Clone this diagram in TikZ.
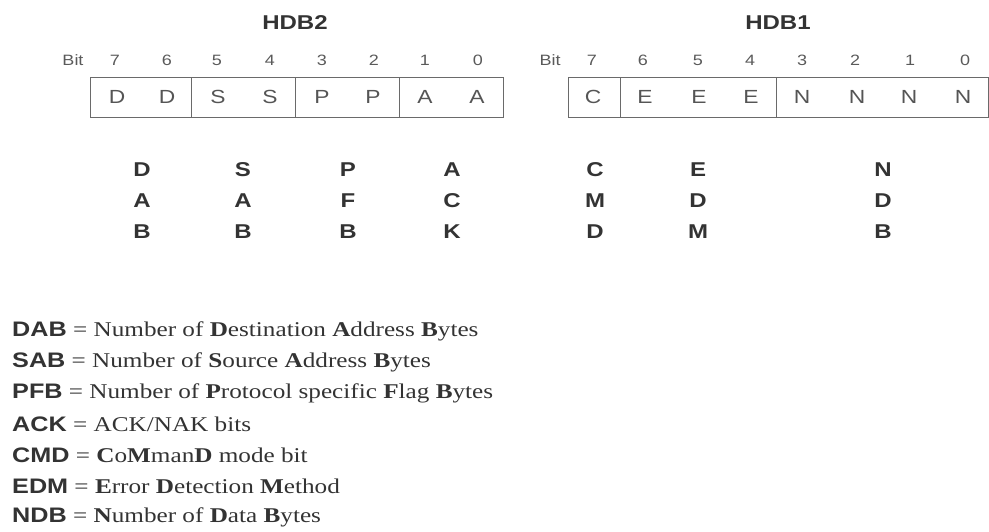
\documentclass[tikz,border=0pt]{standalone}
\usepackage{fontspec}
\setmainfont{Liberation Serif}[FakeStretch=1.2]
\setsansfont{Liberation Sans}[FakeStretch=1.2]
\definecolor{ink}{HTML}{333333}
\definecolor{cellgray}{HTML}{555555}
\definecolor{bitgray}{HTML}{5A5A5A}
\definecolor{linegray}{HTML}{6A6A6A}
\tikzset{
  titletext/.style={font=\sffamily\bfseries\fontsize{20}{20}\selectfont, text=ink, inner sep=0pt},
  bitnum/.style={font=\sffamily\fontsize{15}{15}\selectfont, text=bitgray, inner sep=0pt},
  celltext/.style={font=\sffamily\fontsize{19}{19}\selectfont, text=cellgray, inner sep=0pt},
  acrtext/.style={font=\sffamily\bfseries\fontsize{20}{20}\selectfont, text=ink, inner sep=0pt},
  legendtext/.style={anchor=west, font=\fontsize{21}{21}\selectfont, text=ink, inner sep=0pt},
  regline/.style={draw=linegray, line width=1pt}
}
\newcommand\acrb[1]{{\sffamily\bfseries #1}}
\begin{document}
\begin{tikzpicture}[x=1pt,y=-1pt]
\useasboundingbox (0,0) rectangle (989,531);
% titles
\node[titletext] (t2) at (295,23) {HDB2};
\node[titletext] (t1) at (778,23) {HDB1};
% bit rows
\node[bitnum] (bit2) at (73,60) {Bit};
\node[bitnum] (bit1) at (550,60) {Bit};
\foreach \n/\x in {7/115,6/167,5/217,4/270,3/322,2/374,1/425,0/478}
  \node[bitnum] (h2b\n) at (\x,60) {\n};
\foreach \n/\x in {7/592,6/643,5/698,4/750,3/802,2/855,1/910,0/965}
  \node[bitnum] (h1b\n) at (\x,60) {\n};
% register boxes
\draw[regline] (90,77) rectangle (503,117);
\draw[regline] (191,77) -- (191,117);
\draw[regline] (295,77) -- (295,117);
\draw[regline] (399,77) -- (399,117);
\draw[regline] (568,77) rectangle (988,117);
\draw[regline] (620,77) -- (620,117);
\draw[regline] (776,77) -- (776,117);
% cell letters
\foreach \n/\x/\l in {7/117/D,6/167/D,5/218/S,4/270/S,3/322/P,2/373/P,1/425/A,0/477/A}
  \node[celltext] (h2c\n) at (\x,97) {\l};
\foreach \n/\x/\l in {7/593/C,6/645/E,5/699/E,4/751/E,3/802/N,2/857/N,1/909/N,0/963/N}
  \node[celltext] (h1c\n) at (\x,97) {\l};
% vertical acronyms
\foreach \k/\x/\a/\b/\c in {dab/142/D/A/B,sab/243/S/A/B,pfb/348/P/F/B,ack/452/A/C/K,cmd/595/C/M/D,edm/698/E/D/M,ndb/883/N/D/B}{
  \node[acrtext] (\k1) at (\x,170) {\a};
  \node[acrtext] (\k2) at (\x,201) {\b};
  \node[acrtext] (\k3) at (\x,232) {\c};
}
% legend
\node[legendtext] (l1) at (12,331) {\acrb{DAB} = Number of \textbf{D}estination \textbf{A}ddress \textbf{B}ytes};
\node[legendtext] (l2) at (12,362) {\acrb{SAB} = Number of \textbf{S}ource \textbf{A}ddress \textbf{B}ytes};
\node[legendtext] (l3) at (12,393) {\acrb{PFB} = Number of \textbf{P}rotocol specific \textbf{F}lag \textbf{B}ytes};
\node[legendtext] (l4) at (12,424) {\acrb{ACK} = ACK/NAK bits};
\node[legendtext] (l5) at (12,455) {\acrb{CMD} = \textbf{C}o\textbf{M}man\textbf{D} mode bit};
\node[legendtext] (l6) at (12,486) {\acrb{EDM} = \textbf{E}rror \textbf{D}etection \textbf{M}ethod};
\node[legendtext] (l7) at (12,517) {\acrb{NDB} = \textbf{N}umber of \textbf{D}ata \textbf{B}ytes};
\end{tikzpicture}
\end{document}
